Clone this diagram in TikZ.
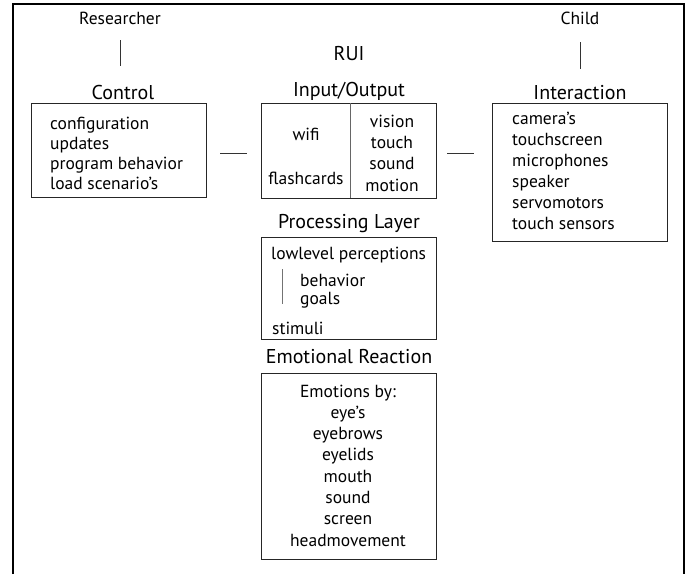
\documentclass[tikz,border=0pt]{standalone}
\usepackage{fontspec}
\setmainfont{PT Sans}
\begin{document}
\begin{tikzpicture}[x=1pt,y=-1pt,
  txt/.style={inner sep=0pt,yshift=-2pt,text height=12pt,text depth=3.5pt,font=\fontsize{17.5}{20}\selectfont},
  head/.style={inner sep=0pt,yshift=-2pt,text height=14pt,text depth=4pt,font=\fontsize{20}{24}\selectfont},
  boxs/.style={draw=black!85,line width=0.9pt},
  link/.style={draw=black!80,line width=0.8pt},
  frame/.style={line width=2.6pt}]
\useasboundingbox (0,0) rectangle (693,574);
% outer frame (open at bottom)
\draw[frame] (13,574) -- (13,4) -- (684,4) -- (684,574);
% actors
\node[txt] (res) at (120,18) {Researcher};
\node[txt] (child) at (580,18) {Child};
\node[head] (rui) at (349,53) {RUI};
\coordinate (resA) at (120,40); \coordinate (resB) at (120,66);
\coordinate (chA) at (580,42); \coordinate (chB) at (580,69);
\draw[link] (resA) -- (resB);
\draw[link] (chA) -- (chB);
% headings
\node[head] (hctl) at (123,92) {Control};
\node[head] (hio) at (349,89) {Input/Output};
\node[head] (hint) at (580,92) {Interaction};
\node[head] (hproc) at (349,221) {Processing Layer};
\node[head] (hemo) at (349,356) {Emotional Reaction};
% boxes
\node[boxs,inner sep=0pt,minimum width=175pt,minimum height=94pt] (ctl) at (118.5,150) {};
\node[boxs,inner sep=0pt,minimum width=175pt,minimum height=95pt] (io) at (348.5,150.5) {};
\node[boxs,inner sep=0pt,minimum width=175pt,minimum height=138pt] (int) at (579.5,172) {};
\node[boxs,inner sep=0pt,minimum width=175pt,minimum height=102pt] (proc) at (348.5,288) {};
\node[boxs,inner sep=0pt,minimum width=175pt,minimum height=186pt] (emo) at (348.5,466) {};
\coordinate (ioT) at (350,103); \coordinate (ioB) at (350,198);
\draw[draw=black!60,line width=0.9pt] (ioT) -- (ioB);
% control text
\node[txt,anchor=west] (c1) at (50,123) {configuration};
\node[txt,anchor=west] (c2) at (50,143) {updates};
\node[txt,anchor=west] (c3) at (50,163) {program behavior};
\node[txt,anchor=west] (c4) at (50,183) {load scenario's};
% io text
\node[txt] (i1) at (306,134) {wifi};
\node[txt] (i2) at (306,178) {flashcards};
\node[txt] (o1) at (392,121) {vision};
\node[txt] (o2) at (392,142) {touch};
\node[txt] (o3) at (392,163) {sound};
\node[txt] (o4) at (392,185) {motion};
% interaction text
\node[txt,anchor=west] (n1) at (512,118) {camera's};
\node[txt,anchor=west] (n2) at (512,139) {touchscreen};
\node[txt,anchor=west] (n3) at (512,160) {microphones};
\node[txt,anchor=west] (n4) at (512,181) {speaker};
\node[txt,anchor=west] (n5) at (512,202) {servomotors};
\node[txt,anchor=west] (n6) at (512,223) {touch sensors};
% connectors
\coordinate (d1a) at (220,153); \coordinate (d1b) at (247,153);
\coordinate (d2a) at (447,153); \coordinate (d2b) at (474,153);
\draw[link] (d1a) -- (d1b);
\draw[link] (d2a) -- (d2b);
% processing text
\node[txt,anchor=west] (p1) at (271,253) {lowlevel perceptions};
\node[txt,anchor=west] (p2) at (300,280) {behavior};
\node[txt,anchor=west] (p3) at (300,298) {goals};
\node[txt,anchor=west] (p4) at (272,328) {stimuli};
\coordinate (pvA) at (282,269); \coordinate (pvB) at (282,304);
\draw[draw=black!55,line width=0.9pt] (pvA) -- (pvB);
% emotional text
\node[txt] (e0) at (348,391) {Emotions by:};
\node[txt] (e1) at (348,412) {eye’s};
\node[txt] (e2) at (348,433) {eyebrows};
\node[txt] (e3) at (348,454) {eyelids};
\node[txt] (e4) at (348,476) {mouth};
\node[txt] (e5) at (348,497) {sound};
\node[txt] (e6) at (348,518) {screen};
\node[txt] (e7) at (348,540) {headmovement};
\end{tikzpicture}
\end{document}
